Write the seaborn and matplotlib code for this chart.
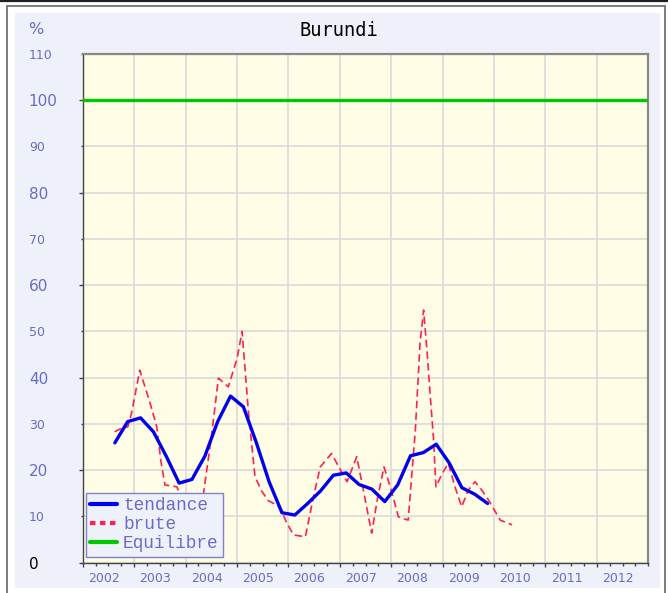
import matplotlib
matplotlib.use("Agg")
import matplotlib.pyplot as plt
import matplotlib.transforms as mtransforms
from matplotlib.patches import Rectangle
from matplotlib.lines import Line2D
from matplotlib.ticker import FixedLocator, MultipleLocator, NullFormatter
import pandas as pd
import seaborn as sns

# ---- data -------------------------------------------------------------
country = "Burundi"
years = list(range(2002, 2013))
EQUILIBRE = 100

# smoothed series (quarterly, decimal years)
trend_t = [2002.625, 2002.875, 2003.125, 2003.375, 2003.625, 2003.875,
           2004.125, 2004.375, 2004.625, 2004.875, 2005.125, 2005.375,
           2005.625, 2005.875, 2006.125, 2006.375, 2006.625, 2006.875,
           2007.125, 2007.375, 2007.625, 2007.875, 2008.125, 2008.375,
           2008.625, 2008.875, 2009.125, 2009.375, 2009.625, 2009.875]
trend_v = [25.9, 30.5, 31.3, 28.3, 23.0, 17.2,
           18.0, 23.0, 30.5, 36.0, 33.7, 26.0,
           17.5, 10.8, 10.3, 12.8, 15.5, 18.9,
           19.4, 16.9, 15.9, 13.2, 16.8, 23.1,
           23.8, 25.6, 21.6, 16.2, 14.8, 12.8]

# raw series
raw_t = [2002.62, 2002.75, 2002.88, 2002.95, 2003.11, 2003.31, 2003.44,
         2003.52, 2003.60, 2003.72, 2003.83, 2003.95, 2004.12, 2004.35,
         2004.50, 2004.64, 2004.83, 2005.00, 2005.10, 2005.22, 2005.35,
         2005.48, 2005.61, 2005.84, 2005.95, 2006.10, 2006.33, 2006.49,
         2006.62, 2006.84, 2006.98, 2007.14, 2007.33, 2007.47, 2007.62,
         2007.74, 2007.86, 2008.00, 2008.14, 2008.33, 2008.47, 2008.56,
         2008.63, 2008.70, 2008.76, 2008.82, 2008.87, 2008.98, 2009.11,
         2009.24, 2009.37, 2009.50, 2009.63, 2009.76, 2009.89, 2010.12,
         2010.35]
raw_v = [28.3, 29.0, 29.4, 32.3, 41.6, 34.5, 29.4,
         22.0, 16.8, 16.6, 16.4, 13.5, 11.8, 15.0,
         27.0, 39.9, 38.0, 44.0, 50.0, 33.0, 18.6,
         15.5, 13.4, 12.1, 9.0, 6.0, 5.6, 14.3,
         20.7, 23.6, 20.7, 17.5, 22.9, 15.0, 6.4,
         14.3, 20.7, 15.7, 9.9, 9.2, 28.7, 47.4,
         54.6, 45.3, 35.9, 27.2, 16.4, 19.0, 21.5,
         16.4, 12.1, 15.7, 17.5, 15.7, 13.6, 9.2,
         8.2]

legend_labels = ["tendance", "brute", "Equilibre"]

# ---- style ------------------------------------------------------------
BLUE = "#0000EE"
RED = "#FF2050"
GREEN = "#00C800"
TICK_BLUE = "#6A6AC8"
PANEL = "#EEF1FA"
PLOT_BG = "#FFFDE6"
GRID = "#DCDCDC"

sns.set_theme(style="white")
plt.rcParams["font.family"] = ["DejaVu Sans"]

W, H, DPI = 668, 593, 100
fig = plt.figure(figsize=(W / DPI, H / DPI), dpi=DPI, facecolor="white")

def fx(px):
    return px / W

def fy(py):
    return 1 - py / H

# outer frame and panel
fig.add_artist(Line2D([0, 1], [fy(0.8), fy(0.8)], transform=fig.transFigure,
                      color="#222222", lw=1.6))
fig.add_artist(Rectangle((fx(7), fy(600)), fx(665) - fx(7), fy(5.5) - fy(600),
                         transform=fig.transFigure, facecolor="white",
                         edgecolor="#666666", lw=1.2, zorder=0))
fig.add_artist(Rectangle((fx(15), fy(588)), fx(660) - fx(15), fy(13) - fy(588),
                         transform=fig.transFigure, facecolor=PANEL,
                         edgecolor="none", zorder=0.5))

left, right, top, bottom = 82.7, 648.3, 53.7, 562.7
ax = fig.add_axes([fx(left), fy(bottom), fx(right) - fx(left), fy(top) - fy(bottom)])
ax.set_facecolor(PLOT_BG)
ax.set_zorder(2)

# ---- marks ------------------------------------------------------------
raw_df = pd.DataFrame({"annee": raw_t, "valeur": raw_v})
trend_df = pd.DataFrame({"annee": trend_t, "valeur": trend_v})

ax.axhline(EQUILIBRE, color=GREEN, lw=2.4, zorder=3)
sns.lineplot(data=raw_df, x="annee", y="valeur", ax=ax, color=RED, lw=1.2,
             linestyle=(0, (4.5, 2.5)), zorder=4)
sns.lineplot(data=trend_df, x="annee", y="valeur", ax=ax, color=BLUE, lw=2.4,
             zorder=5)

# ---- axes -------------------------------------------------------------
ax.set_xlim(years[0], years[-1] + 1)
ax.set_ylim(0, 110)
ax.set_xlabel("")
ax.set_ylabel("")

ax.xaxis.set_major_locator(FixedLocator(years))
ax.xaxis.set_minor_locator(MultipleLocator(0.25))
ax.set_xticklabels([str(y) for y in years])
ax.xaxis.set_minor_formatter(NullFormatter())

ax.yaxis.set_major_locator(FixedLocator(list(range(0, 101, 20))))
ax.yaxis.set_minor_locator(FixedLocator(list(range(10, 111, 20))))
ax.set_yticklabels([str(v) for v in range(0, 101, 20)])
ax.set_yticklabels([str(v) for v in range(10, 111, 20)], minor=True)

ax.grid(True, which="major", color=GRID, lw=1.3)
ax.grid(True, which="minor", axis="y", color=GRID, lw=1.3)
ax.set_axisbelow(True)

ax.tick_params(axis="x", which="major", direction="out", length=3, width=1,
               color="#444444", labelsize=9, labelcolor=TICK_BLUE, pad=4,
               bottom=True)
ax.tick_params(axis="x", which="minor", direction="out", length=2.2, width=1,
               color="#444444", bottom=True)
ax.tick_params(axis="y", which="major", direction="out", length=3, width=1,
               color="#444444", labelsize=11, labelcolor=TICK_BLUE, pad=35.8,
               left=True)
ax.tick_params(axis="y", which="minor", direction="out", length=1.5, width=1,
               color="#444444", labelsize=9, labelcolor=TICK_BLUE, pad=37.2,
               left=True)

for lab in ax.get_yticklabels(which="both"):
    lab.set_horizontalalignment("left")
for lab in ax.get_yticklabels():
    if lab.get_text() == "0":
        lab.set_color("black")

shift = mtransforms.ScaledTranslation(21 / DPI, 0, fig.dpi_scale_trans)
for lab in ax.get_xticklabels():
    lab.set_transform(lab.get_transform() + shift)

for side in ["left", "bottom"]:
    ax.spines[side].set_color("#444444")
    ax.spines[side].set_linewidth(1.0)
for side in ["top", "right"]:
    ax.spines[side].set_color("#888888")
    ax.spines[side].set_linewidth(1.6)

# ---- legend -----------------------------------------------------------
handles = [Line2D([], [], color=BLUE, lw=3.0),
           Line2D([], [], color=RED, lw=3.0, linestyle=(0, (1.3, 1.1))),
           Line2D([], [], color=GREEN, lw=3.0)]
leg = ax.legend(handles, legend_labels, loc="lower left",
                bbox_to_anchor=(0.0053, 0.0118), borderaxespad=0,
                prop={"family": "Liberation Mono", "size": 12.8},
                labelcolor=TICK_BLUE, frameon=True, fancybox=False,
                facecolor=PANEL, edgecolor="#8080D0", framealpha=1,
                handlelength=1.5, handletextpad=0.35, labelspacing=0.12,
                borderpad=0.25)
leg.get_frame().set_linewidth(1.0)
leg.set_zorder(10)

# ---- titles -----------------------------------------------------------
fig.text(fx(339), fy(31), country, ha="center", va="center",
         family="DejaVu Sans Mono", fontsize=13.5, color="black")
fig.text(fx(28), fy(30), "%", ha="left", va="center",
         fontsize=11.5, color=TICK_BLUE)

fig.savefig("out.png", dpi=DPI, facecolor=fig.get_facecolor())
